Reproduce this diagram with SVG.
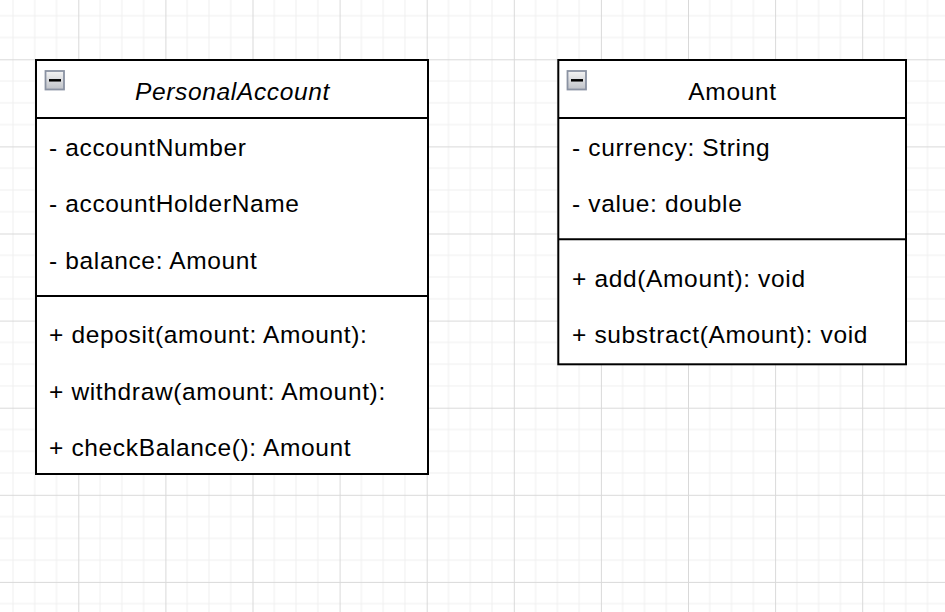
<svg xmlns="http://www.w3.org/2000/svg" width="945" height="612" viewBox="0 0 945 612">
<style>
.box{fill:#ffffff;stroke:#000000;stroke-width:2}
.ln{stroke:#000000;stroke-width:2;fill:none}
.t{font-family:"Liberation Sans",Arial,sans-serif;font-size:24.5px;letter-spacing:0.65px;fill:#000000}
.title{text-anchor:middle}
.it{font-style:italic}
.icon{fill:url(#ig);stroke:#8a92a2;stroke-width:1.8}
.minus{stroke:#000000;stroke-width:2.5}
</style>
<defs>
<linearGradient id="ig" x1="0" y1="0" x2="0" y2="1">
<stop offset="0" stop-color="#f4f4f4"/>
<stop offset="1" stop-color="#bfc2c8"/>
</linearGradient>
<pattern id="grid" patternUnits="userSpaceOnUse" x="78.3" y="59.3" width="87.1" height="87.1">
<path d="M21.775 0V87.1M43.55 0V87.1M65.325 0V87.1M0 21.775H87.1M0 43.55H87.1M0 65.325H87.1" stroke="#f0f0f0" stroke-width="1" fill="none"/>
<path d="M0.5 0V87.1M0 0.5H87.1" stroke="#d9d9d9" stroke-width="1" fill="none"/>
</pattern>
</defs>
<rect width="945" height="612" fill="#ffffff"/>
<rect width="945" height="612" fill="url(#grid)"/>
<g id="connectors"></g>
<g id="PersonalAccount">
<rect class="box" x="36" y="60" width="392" height="414"/>
<line class="ln" x1="36" y1="118" x2="428" y2="118"/>
<line class="ln" x1="36" y1="296" x2="428" y2="296"/>
<rect class="icon" x="45.5" y="71" width="18.5" height="18.5"/>
<line class="minus" x1="49" y1="80.3" x2="61" y2="80.3"/>
<text class="t title it" x="232.5" y="99.5">PersonalAccount</text>
<text class="t" x="49" y="155.5">- accountNumber</text>
<text class="t" x="49" y="212">- accountHolderName</text>
<text class="t" x="49" y="268.5">- balance: Amount</text>
<text class="t" x="49" y="342.5">+ deposit(amount: Amount):</text>
<text class="t" x="49" y="399.5">+ withdraw(amount: Amount):</text>
<text class="t" x="49" y="455.5">+ checkBalance(): Amount</text>
</g>
<g id="Amount">
<rect class="box" x="558.3" y="60" width="347.7" height="304.3"/>
<line class="ln" x1="558.3" y1="118" x2="906" y2="118"/>
<line class="ln" x1="558.3" y1="239.3" x2="906" y2="239.3"/>
<rect class="icon" x="567.5" y="71" width="18.5" height="18.5"/>
<line class="minus" x1="571" y1="80.3" x2="583" y2="80.3"/>
<text class="t title" x="732.5" y="99.5">Amount</text>
<text class="t" x="572" y="155.5">- currency: String</text>
<text class="t" x="572" y="212">- value: double</text>
<text class="t" x="572" y="286.5">+ add(Amount): void</text>
<text class="t" x="572" y="342.5">+ substract(Amount): void</text>
</g>
</svg>
